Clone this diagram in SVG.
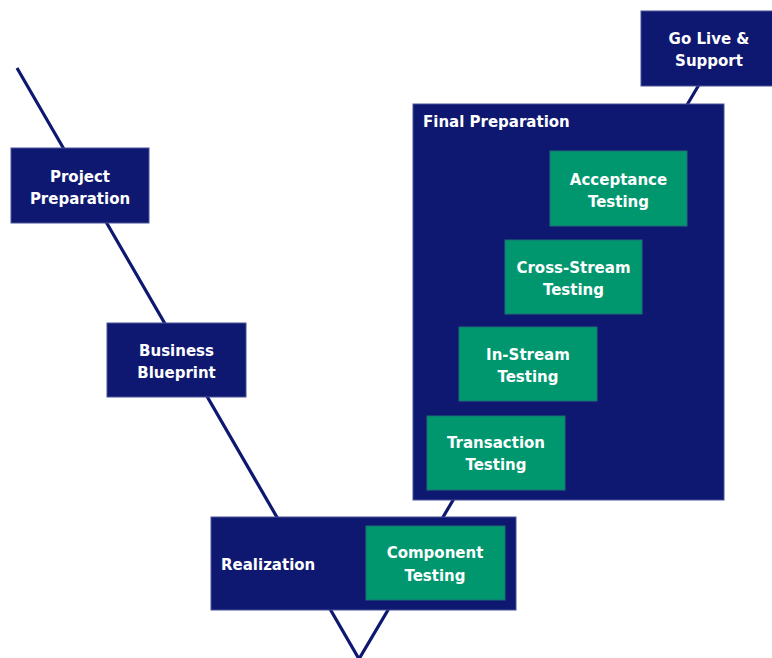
<svg xmlns="http://www.w3.org/2000/svg" width="772" height="658" viewBox="0 0 772 658">
<style>
.phase{fill:#0f1870;stroke:#4a5299;stroke-width:1}
.test{fill:#00976f;stroke:#1f6e77;stroke-width:1}
.lbl{font-family:"DejaVu Sans",Verdana,sans-serif;font-weight:bold;font-size:15px;fill:#ffffff}
.c{text-anchor:middle}
.vline{fill:none;stroke:#0f1870;stroke-width:3.2}
</style>
<rect width="772" height="658" fill="#ffffff"/>
<g id="connectors">
<polyline class="vline" points="17,68 359,659 700,83"/>
</g>
<g id="project-preparation">
<rect class="phase" x="11" y="148" width="138" height="75"/>
<text class="lbl c" x="80" y="182">Project</text>
<text class="lbl c" x="80" y="204">Preparation</text>
</g>
<g id="business-blueprint">
<rect class="phase" x="107" y="323" width="139" height="74"/>
<text class="lbl c" x="176.5" y="356">Business</text>
<text class="lbl c" x="176.5" y="378">Blueprint</text>
</g>
<g id="realization">
<rect class="phase" x="211" y="517" width="305" height="93"/>
<text class="lbl" x="221" y="570">Realization</text>
</g>
<g id="component-testing">
<rect class="test" x="366" y="526" width="139" height="74"/>
<text class="lbl c" x="435" y="558">Component</text>
<text class="lbl c" x="435" y="581">Testing</text>
</g>
<g id="final-preparation">
<rect class="phase" x="413" y="104" width="311" height="396"/>
<text class="lbl" x="423" y="127">Final Preparation</text>
</g>
<g id="acceptance-testing">
<rect class="test" x="550" y="151" width="137" height="75"/>
<text class="lbl c" x="618.5" y="185">Acceptance</text>
<text class="lbl c" x="618.5" y="207">Testing</text>
</g>
<g id="cross-stream-testing">
<rect class="test" x="505" y="240" width="137" height="74"/>
<text class="lbl c" x="573.5" y="273">Cross-Stream</text>
<text class="lbl c" x="573.5" y="295">Testing</text>
</g>
<g id="in-stream-testing">
<rect class="test" x="459" y="327" width="138" height="74"/>
<text class="lbl c" x="528" y="360">In-Stream</text>
<text class="lbl c" x="528" y="382">Testing</text>
</g>
<g id="transaction-testing">
<rect class="test" x="427" y="416" width="138" height="74"/>
<text class="lbl c" x="496" y="448">Transaction</text>
<text class="lbl c" x="496" y="470">Testing</text>
</g>
<g id="go-live-support">
<rect class="phase" x="641" y="11" width="134" height="75"/>
<text class="lbl c" x="709" y="44">Go Live &amp;</text>
<text class="lbl c" x="709" y="66">Support</text>
</g>
</svg>
